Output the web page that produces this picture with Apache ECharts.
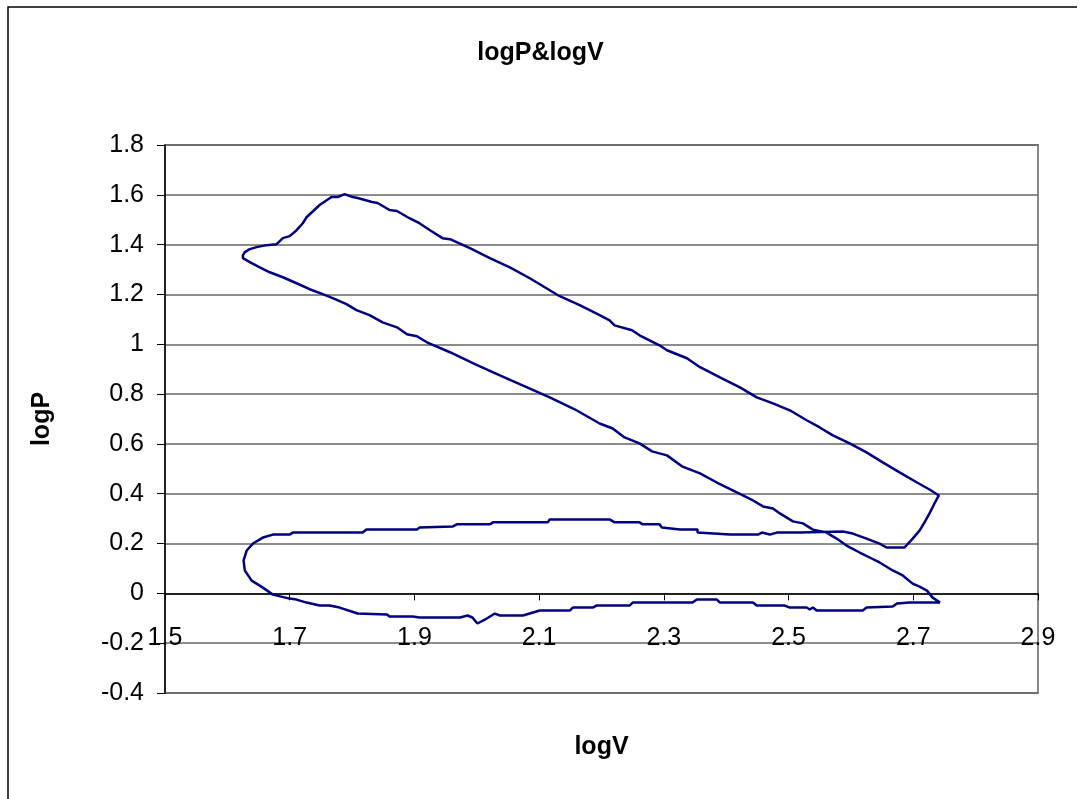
<!DOCTYPE html>
<html>
<head>
<meta charset="utf-8">
<title>logP&amp;logV</title>
<script src="https://cdn.jsdelivr.net/npm/echarts@6/dist/echarts.min.js"></script>
<style>
  html, body { margin: 0; padding: 0; background: #fff; }
  #main { width: 1081px; height: 799px; }
</style>
</head>
<body>
<div id="main"></div>
<script>
// tick labels
var xTickLabels = [1.5, 1.7, 1.9, 2.1, 2.3, 2.5, 2.7, 2.9];
var yMin = -0.4, yMax = 1.8, yStep = 0.2;

// the cycle, stroke by stroke: [logV, logP]
var compression = [
  [2.743,-0.037],[2.731,-0.017],[2.722,0.011],[2.710,0.027],[2.699,0.039],[2.683,0.072],
  [2.667,0.092],[2.646,0.124],[2.630,0.144],[2.614,0.164],[2.593,0.192],[2.577,0.220],
  [2.561,0.244],[2.539,0.256],[2.523,0.281],[2.507,0.289],[2.486,0.321],[2.475,0.341],
  [2.459,0.349],[2.443,0.373],[2.417,0.405],[2.385,0.445],[2.358,0.482],[2.329,0.510],
  [2.305,0.554],[2.281,0.570],[2.261,0.602],[2.237,0.626],[2.218,0.662],[2.197,0.682],
  [2.157,0.739],[2.117,0.787],[2.077,0.831],[2.037,0.875],[1.997,0.920],[1.957,0.968],
  [1.920,1.008],[1.904,1.032],[1.888,1.040],[1.872,1.068],[1.849,1.088],[1.828,1.117],
  [1.807,1.137],[1.791,1.161],[1.769,1.185],[1.753,1.201],[1.732,1.221],[1.711,1.245],
  [1.689,1.269],[1.668,1.289],[1.652,1.309],[1.636,1.330],[1.625,1.346]
];
var combustion = [
  [1.625,1.358],[1.628,1.370],[1.636,1.382],[1.647,1.390],[1.663,1.398],[1.679,1.402],
  [1.689,1.426],[1.700,1.434],[1.711,1.458],[1.721,1.486],[1.727,1.510],[1.748,1.559],
  [1.767,1.591],[1.777,1.591],[1.788,1.603]
];
var expansion = [
  [1.801,1.591],[1.809,1.587],[1.832,1.571],[1.841,1.567],[1.860,1.539],[1.872,1.535],
  [1.892,1.506],[1.908,1.486],[1.925,1.458],[1.945,1.426],[1.957,1.422],[1.989,1.386],
  [2.021,1.346],[2.053,1.309],[2.085,1.265],[2.109,1.229],[2.133,1.193],[2.165,1.157],
  [2.197,1.117],[2.213,1.096],[2.221,1.076],[2.249,1.056],[2.261,1.036],[2.277,1.016],
  [2.293,0.996],[2.305,0.976],[2.337,0.944],[2.358,0.908],[2.390,0.867],[2.422,0.827],
  [2.449,0.787],[2.475,0.763],[2.502,0.735],[2.529,0.695],[2.550,0.666],[2.571,0.634],
  [2.598,0.602],[2.625,0.566],[2.651,0.526],[2.678,0.486],[2.706,0.445],[2.726,0.417],
  [2.741,0.393]
];
var blowdown = [
  [2.734,0.361],[2.726,0.321],[2.718,0.285],[2.710,0.252],[2.699,0.220],[2.686,0.184],
  [2.657,0.184],[2.646,0.200],[2.625,0.220],[2.603,0.240],[2.587,0.248]
];
var exhaust = [
  [2.518,0.244],[2.481,0.244],[2.470,0.236],[2.457,0.244],[2.451,0.236],[2.406,0.236],
  [2.403,0.244],[2.354,0.244],[2.354,0.256],[2.326,0.256],[2.326,0.264],[2.297,0.264],
  [2.293,0.277],[2.266,0.277],[2.261,0.285],[2.221,0.285],[2.213,0.297],[2.117,0.297],
  [2.114,0.285],[2.026,0.285],[2.021,0.277],[1.968,0.277],[1.961,0.268],[1.908,0.264],
  [1.904,0.256],[1.823,0.256],[1.817,0.244],[1.705,0.244],[1.700,0.236],[1.673,0.236],
  [1.657,0.224],[1.641,0.200],[1.631,0.172],[1.626,0.132],[1.628,0.092],[1.639,0.051],
  [1.657,0.023],[1.673,-0.005]
];
var intake = [
  [1.700,-0.021],[1.711,-0.025],[1.727,-0.037],[1.748,-0.049],[1.764,-0.049],[1.780,-0.057],
  [1.809,-0.081],[1.856,-0.085],[1.860,-0.093],[1.897,-0.093],[1.908,-0.097],[1.973,-0.097],
  [1.985,-0.089],[1.993,-0.097],[2.001,-0.121],[2.016,-0.101],[2.029,-0.081],[2.037,-0.089],
  [2.074,-0.089],[2.101,-0.069],[2.149,-0.069],[2.154,-0.057],[2.186,-0.057],[2.192,-0.049],
  [2.245,-0.049],[2.250,-0.037],[2.346,-0.037],[2.353,-0.025],[2.385,-0.025],[2.390,-0.037],
  [2.443,-0.037],[2.449,-0.049],[2.494,-0.049],[2.502,-0.057],[2.529,-0.057],[2.534,-0.065],
  [2.539,-0.057],[2.545,-0.069],[2.619,-0.069],[2.625,-0.057],[2.667,-0.053],[2.674,-0.041],
  [2.694,-0.037],[2.743,-0.037]
];

// one closed loop
var loop = [].concat(compression, combustion, expansion, blowdown, exhaust, intake);

var font = 'Arial, "Liberation Sans", sans-serif';
var gridTop = 145, gridBottom = 106;
var plotHeight = 799 - gridTop - gridBottom;
// x axis crosses at logP = 0 (excel style): shift it up from the grid bottom
var xAxisOffset = -(0 - yMin) / (yMax - yMin) * plotHeight;

var myChart = echarts.init(document.getElementById('main'));

var option = {
  animation: false,
  backgroundColor: '#fff',
  title: {
    text: 'logP&logV',
    left: 'center',
    top: 36,
    textStyle: { fontFamily: font, fontSize: 25, fontWeight: 'bold', color: '#000' }
  },
  grid: {
    left: 165, right: 43, top: gridTop, bottom: gridBottom,
    outerBoundsMode: 'none',
    containLabel: false,
    show: true, borderColor: '#888', borderWidth: 2
  },
  xAxis: {
    type: 'value',
    min: 1.5,
    max: 2.9,
    offset: xAxisOffset,
    name: 'logV',
    nameLocation: 'middle',
    nameGap: 141,
    nameTextStyle: { fontFamily: font, fontSize: 25, fontWeight: 'bold', color: '#000' },
    axisLine: { onZero: false, lineStyle: { color: '#000', width: 1.5 } },
    axisTick: { show: true, length: 7, customValues: xTickLabels, lineStyle: { color: '#000' } },
    axisLabel: {
      customValues: xTickLabels,
      margin: 32,
      fontFamily: font, fontSize: 25, color: '#000'
    },
    splitLine: { show: false }
  },
  yAxis: {
    type: 'value',
    min: yMin,
    max: yMax,
    interval: yStep,
    name: 'logP',
    nameLocation: 'middle',
    nameRotate: 90,
    nameGap: 110,
    nameTextStyle: { fontFamily: font, fontSize: 25, fontWeight: 'bold', color: '#000' },
    axisLine: { show: true, onZero: false, lineStyle: { color: '#000', width: 1.5 } },
    axisTick: { show: true, length: 8, lineStyle: { color: '#000' } },
    axisLabel: { margin: 21, fontFamily: font, fontSize: 25, color: '#000' },
    splitLine: { show: true, lineStyle: { color: '#666', width: 1.5 } }
  },
  // outer chart frame (left and top edges visible)
  graphic: [{
    type: 'polyline',
    shape: { points: [[8, 799], [8, 7], [1077, 7]] },
    style: { stroke: '#000', lineWidth: 1.5, fill: null }
  }],
  series: [{
    name: 'logP',
    type: 'line',
    data: loop.concat([loop[0]]),
    showSymbol: false,
    smooth: false,
    lineStyle: { color: '#000080', width: 2.5 },
    itemStyle: { color: '#000080' }
  }]
};
myChart.setOption(option);
</script>
</body>
</html>
